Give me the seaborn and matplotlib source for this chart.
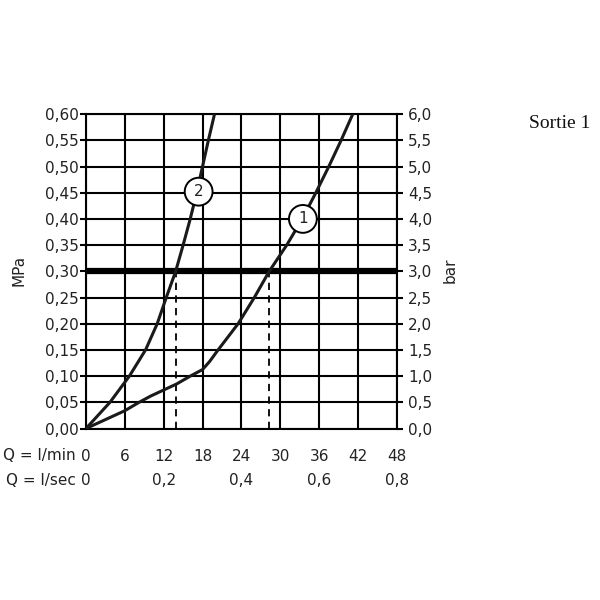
import matplotlib.pyplot as plt
import numpy as np
import pandas as pd
import seaborn as sns

q_courbe1 = [0, 3, 6, 8.2, 10, 12, 14, 16.1, 18, 19.1, 20.4, 23.5, 26.0, 28.3, 31.0, 33.4, 35.5, 37.5, 39.4, 41.2]
p_courbe1 = [0, 0.017, 0.034, 0.05, 0.062, 0.0735, 0.085, 0.10, 0.1125, 0.128, 0.15, 0.20, 0.25, 0.30,
             0.35, 0.40, 0.45, 0.50, 0.55, 0.60]
q_courbe2 = [0, 3.7, 6.7, 9.2, 11.0, 12.4, 13.85, 15.0, 16.1, 17.1, 18.0, 18.9, 19.85]
p_courbe2 = [0, 0.05, 0.10, 0.15, 0.20, 0.25, 0.30, 0.35, 0.40, 0.45, 0.50, 0.55, 0.60]

p_ref = 0.30                 # ligne epaisse 3 bar
q_ref = [13.85, 28.3]        # debits a 3 bar (pointilles)
etiquettes = [("1", 33.5, 0.40), ("2", 17.4, 0.452)]

q_min_ticks = [0, 6, 12, 18, 24, 30, 36, 42, 48]
q_sec_pos = [0, 12, 24, 36, 48]
q_sec_labels = ["0", "0,2", "0,4", "0,6", "0,8"]
mpa_ticks = [0.00, 0.05, 0.10, 0.15, 0.20, 0.25, 0.30, 0.35, 0.40, 0.45, 0.50, 0.55, 0.60]
bar_ticks = [0.0, 0.5, 1.0, 1.5, 2.0, 2.5, 3.0, 3.5, 4.0, 4.5, 5.0, 5.5, 6.0]

sns.set_theme(style="white")
plt.rcParams['font.family'] = ['DejaVu Sans']

df = pd.concat([
    pd.DataFrame({"q": q_courbe1, "p": p_courbe1, "courbe": "1"}),
    pd.DataFrame({"q": q_courbe2, "p": p_courbe2, "courbe": "2"}),
])

fig = plt.figure(figsize=(6, 6), dpi=100)
ax = fig.add_axes([0.1433, 0.2858, 0.518, 0.524])

fs = 11
lw_grid = 1.5
txt_col = "#222222"

ax.set_xlim(0, 48)
ax.set_ylim(0, 0.60)
ax.set_xticks(q_min_ticks)
ax.set_yticks(mpa_ticks)
ax.set_xticklabels([str(v) for v in q_min_ticks], fontsize=fs)
ax.set_yticklabels([("%.2f" % v).replace(".", ",") for v in mpa_ticks], fontsize=fs)
ax.grid(True, color="black", linewidth=lw_grid)
ax.set_axisbelow(True)
for s in ax.spines.values():
    s.set_color("black")
    s.set_linewidth(lw_grid)
ax.tick_params(axis="both", direction="out", length=4, width=lw_grid, color="black",
               colors=txt_col)
ax.tick_params(axis="y", pad=1)
ax.tick_params(axis="x", pad=10.5)

# ligne 3 bar
ax.axhline(p_ref, color="black", linewidth=4.5, zorder=3)
for q in q_ref:
    ax.plot([q, q], [0, p_ref], color="black", linewidth=1.3, linestyle=(0, (4, 3)), zorder=3)

sns.lineplot(data=df, x="q", y="p", units="courbe", estimator=None, sort=False,
             color="#1a1a1a", linewidth=2.2, ax=ax, zorder=4, legend=False,
             solid_joinstyle="round", solid_capstyle="round")
ax.set_xlabel("")
ax.set_ylabel("MPa", fontsize=fs, color=txt_col)
ax.yaxis.set_label_coords(-0.19, 0.504)

for txt, x, y in etiquettes:
    ax.text(x, y, txt, fontsize=11, ha="center", va="center", zorder=6, color=txt_col,
            bbox=dict(boxstyle="circle,pad=0.42", fc="white", ec="black", lw=1.4))

# axe droit en bar
ax2 = ax.twinx()
ax2.set_ylim(0, 6.0)
ax2.set_yticks(bar_ticks)
ax2.set_yticklabels([("%.1f" % v).replace(".", ",") for v in bar_ticks], fontsize=fs)
ax2.tick_params(axis="y", direction="out", length=4, width=lw_grid, color="black",
                colors=txt_col, pad=4)
ax2.grid(False)
for s in ax2.spines.values():
    s.set_visible(False)
ax2.set_ylabel("bar", fontsize=fs, color=txt_col)
ax2.yaxis.set_label_coords(1.148, 0.504)

# lignes de debit sous l'axe
trans = ax.get_xaxis_transform()
ax.text(-0.032, -0.085, "Q = l/min", transform=ax.transAxes, ha="right", va="center",
        fontsize=fs, color=txt_col)
ax.text(-0.032, -0.165, "Q = l/sec", transform=ax.transAxes, ha="right", va="center",
        fontsize=fs, color=txt_col)
for x, lab in zip(q_sec_pos, q_sec_labels):
    ax.text(x, -0.165, lab, transform=trans, ha="center", va="center", fontsize=fs,
            color=txt_col)

fig.text(0.933, 0.795, "Sortie 1", fontsize=14, family="Liberation Serif",
         ha="center", va="center", color="#111111")

fig.savefig("out.png", dpi=100)
